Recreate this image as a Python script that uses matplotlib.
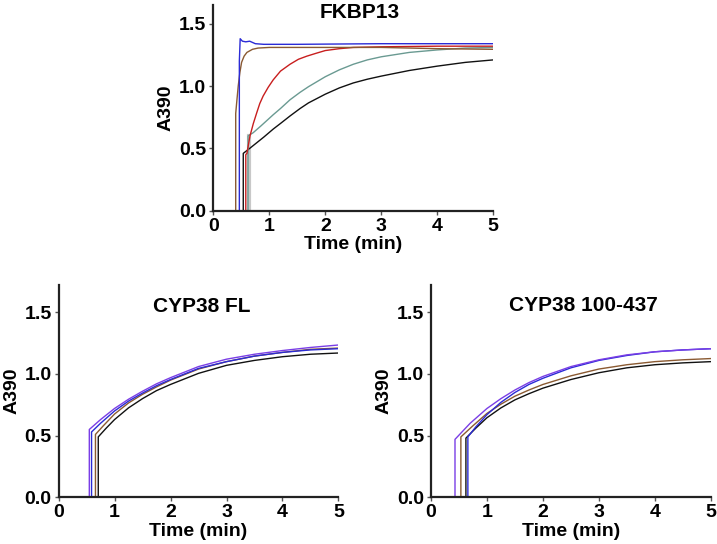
import matplotlib
matplotlib.use("Agg")
import matplotlib.pyplot as plt

plt.rcParams['font.family'] = ['Liberation Sans', 'DejaVu Sans']
plt.rcParams['font.weight'] = 'bold'

# ---------------- data ----------------
# FKBP13
fk_blue_t = [0.465, 0.465, 0.48, 0.52, 0.58, 0.65, 0.75, 0.9, 1.5, 3.0, 5.0]
fk_blue_a = [0.0, 1.20, 1.38, 1.36, 1.355, 1.36, 1.34, 1.335, 1.335, 1.34, 1.34]
fk_brown_t = [0.40, 0.40, 0.42, 0.445, 0.475, 0.505, 0.55, 0.60, 0.70, 0.80, 1.0, 2.0, 3.0, 4.0, 5.0]
fk_brown_a = [0.0, 0.78, 0.88, 1.00, 1.11, 1.19, 1.24, 1.27, 1.295, 1.305, 1.31, 1.31, 1.31, 1.30, 1.295]
fk_red_t = [0.58, 0.58, 0.60, 0.655, 0.715, 0.775, 0.83, 0.89, 0.98, 1.07, 1.2, 1.37, 1.52, 1.67, 1.85, 2.0, 2.25, 2.5, 3.0, 4.0, 5.0]
fk_red_a = [0.0, 0.45, 0.46, 0.60, 0.70, 0.785, 0.86, 0.92, 0.99, 1.05, 1.12, 1.175, 1.215, 1.24, 1.265, 1.285, 1.30, 1.31, 1.315, 1.32, 1.32]
fk_teal_t = [0.62, 0.62, 0.71, 0.85, 1.07, 1.2, 1.37, 1.55, 1.70, 2.0, 2.25, 2.5, 2.75, 3.0, 3.5, 4.0, 4.5, 5.0]
fk_teal_a = [0.0, 0.60, 0.625, 0.68, 0.77, 0.82, 0.89, 0.95, 0.995, 1.075, 1.13, 1.175, 1.21, 1.235, 1.27, 1.29, 1.305, 1.31]
fk_black_t = [0.535, 0.535, 0.65, 0.775, 0.9, 1.07, 1.2, 1.37, 1.55, 1.70, 2.0, 2.25, 2.5, 2.75, 3.0, 3.5, 4.0, 4.5, 5.0]
fk_black_a = [0.0, 0.46, 0.50, 0.545, 0.59, 0.655, 0.70, 0.76, 0.82, 0.865, 0.935, 0.985, 1.025, 1.055, 1.08, 1.125, 1.16, 1.19, 1.21]
fk_gray_t = [0.63, 0.63]
fk_gray_a = [0.0, 0.60]

# CYP38 FL
fl_purple_t = [0.55, 0.55, 0.75, 1.0, 1.25, 1.5, 1.75, 2.0, 2.5, 3.0, 3.5, 4.0, 4.5, 5.0]
fl_purple_a = [0.0, 0.55, 0.63, 0.72, 0.795, 0.86, 0.92, 0.97, 1.06, 1.12, 1.16, 1.19, 1.215, 1.235]
fl_blue_t = [0.59, 0.59, 0.75, 1.0, 1.25, 1.5, 1.75, 2.0, 2.5, 3.0, 3.5, 4.0, 4.5, 5.0]
fl_blue_a = [0.0, 0.53, 0.60, 0.70, 0.78, 0.845, 0.905, 0.955, 1.045, 1.10, 1.145, 1.175, 1.195, 1.205]
fl_brown_t = [0.66, 0.66, 0.8, 1.0, 1.25, 1.5, 1.75, 2.0, 2.5, 3.0, 3.5, 4.0, 4.5, 5.0]
fl_brown_a = [0.0, 0.51, 0.58, 0.675, 0.765, 0.835, 0.895, 0.95, 1.04, 1.10, 1.145, 1.175, 1.20, 1.21]
fl_black_t = [0.71, 0.71, 0.85, 1.0, 1.25, 1.5, 1.75, 2.0, 2.5, 3.0, 3.5, 4.0, 4.5, 5.0]
fl_black_a = [0.0, 0.49, 0.56, 0.63, 0.725, 0.80, 0.865, 0.915, 1.005, 1.07, 1.11, 1.14, 1.16, 1.17]

# CYP38 100-437
tr_purple_t = [0.43, 0.43, 0.7, 1.0, 1.25, 1.5, 1.75, 2.0, 2.5, 3.0, 3.5, 4.0, 4.5, 5.0]
tr_purple_a = [0.0, 0.47, 0.60, 0.72, 0.80, 0.87, 0.93, 0.98, 1.06, 1.115, 1.155, 1.18, 1.195, 1.205]
tr_brown_t = [0.535, 0.535, 0.75, 1.0, 1.25, 1.5, 1.75, 2.0, 2.5, 3.0, 3.5, 4.0, 4.5, 5.0]
tr_brown_a = [0.0, 0.49, 0.58, 0.68, 0.755, 0.82, 0.87, 0.915, 0.985, 1.04, 1.075, 1.10, 1.115, 1.125]
tr_black_t = [0.625, 0.625, 0.8, 1.0, 1.25, 1.5, 1.75, 2.0, 2.5, 3.0, 3.5, 4.0, 4.5, 5.0]
tr_black_a = [0.0, 0.48, 0.56, 0.645, 0.725, 0.79, 0.84, 0.885, 0.955, 1.01, 1.05, 1.075, 1.09, 1.10]
tr_blue_t = [0.66, 0.66, 0.8, 1.0, 1.25, 1.5, 1.75, 2.0, 2.5, 3.0, 3.5, 4.0, 4.5, 5.0]
tr_blue_a = [0.0, 0.49, 0.57, 0.67, 0.77, 0.85, 0.915, 0.965, 1.05, 1.11, 1.15, 1.18, 1.195, 1.205]

titles = ["FKBP13", "CYP38 FL", "CYP38 100-437"]
x_ticks = [0, 1, 2, 3, 4, 5]
y_ticks = [0.0, 0.5, 1.0, 1.5]
y_tick_labels = ["0.0", "0.5", "1.0", "1.5"]
x_label = "Time (min)"
y_label = "A390"

# ---------------- colours ----------------
C_BLUE = "#2b2bd6"
C_PURPLE = "#7a3ee6"
C_BROWN = "#8a5a32"
C_BLACK = "#111111"
C_RED = "#c81e1e"
C_TEAL = "#6a9a92"
C_GRAY = "#c8c8c8"

fig = plt.figure(figsize=(7.17, 5.44), dpi=100)

ax_top = fig.add_axes([0.2975, 0.6127, 0.3905, 0.378])
ax_bl = fig.add_axes([0.0816, 0.0858, 0.3905, 0.390])
ax_br = fig.add_axes([0.601, 0.0858, 0.3905, 0.390])


def style(ax, ytop, title, tx, ty):
    ax.set_xlim(0, 5)
    ax.set_ylim(0, ytop)
    for s in ["top", "right"]:
        ax.spines[s].set_visible(False)
    for s in ["left", "bottom"]:
        ax.spines[s].set_linewidth(1.6)
        ax.spines[s].set_color("#222222")
    ax.set_xticks(x_ticks)
    ax.set_xticklabels([str(v) for v in x_ticks])
    ax.set_yticks(y_ticks)
    ax.set_yticklabels(y_tick_labels)
    ax.tick_params(axis="both", labelsize=14, length=3, width=1, pad=2,
                   color="#555555")
    for lab in ax.get_xticklabels() + ax.get_yticklabels():
        lab.set_fontweight("bold")
    ax.set_xlabel(x_label, fontsize=14, fontweight="bold", labelpad=1)
    ax.set_ylabel(y_label, fontsize=14, fontweight="bold", labelpad=3)
    ax.text(tx, ty, title, transform=ax.transAxes, ha="center", va="center",
            fontsize=15, fontweight="bold")


lw = 1.0
ax_top.plot(fk_gray_t, fk_gray_a, color=C_GRAY, lw=3)
ax_top.plot(fk_black_t, fk_black_a, color=C_BLACK, lw=lw)
ax_top.plot(fk_teal_t, fk_teal_a, color=C_TEAL, lw=lw)
ax_top.plot(fk_red_t, fk_red_a, color=C_RED, lw=lw)
ax_top.plot(fk_brown_t, fk_brown_a, color=C_BROWN, lw=lw)
ax_top.plot(fk_blue_t, fk_blue_a, color=C_BLUE, lw=lw)
style(ax_top, 1.65, titles[0], 0.524, 0.966)

ax_bl.plot(fl_black_t, fl_black_a, color=C_BLACK, lw=lw)
ax_bl.plot(fl_brown_t, fl_brown_a, color=C_BROWN, lw=lw)
ax_bl.plot(fl_blue_t, fl_blue_a, color=C_BLUE, lw=lw)
ax_bl.plot(fl_purple_t, fl_purple_a, color=C_PURPLE, lw=lw)
style(ax_bl, 1.72, titles[1], 0.51, 0.898)

ax_br.plot(tr_black_t, tr_black_a, color=C_BLACK, lw=lw)
ax_br.plot(tr_brown_t, tr_brown_a, color=C_BROWN, lw=lw)
ax_br.plot(tr_blue_t, tr_blue_a, color=C_BLUE, lw=lw)
ax_br.plot(tr_purple_t, tr_purple_a, color=C_PURPLE, lw=lw)
style(ax_br, 1.72, titles[2], 0.544, 0.906)

fig.savefig("out.png", dpi=100)
